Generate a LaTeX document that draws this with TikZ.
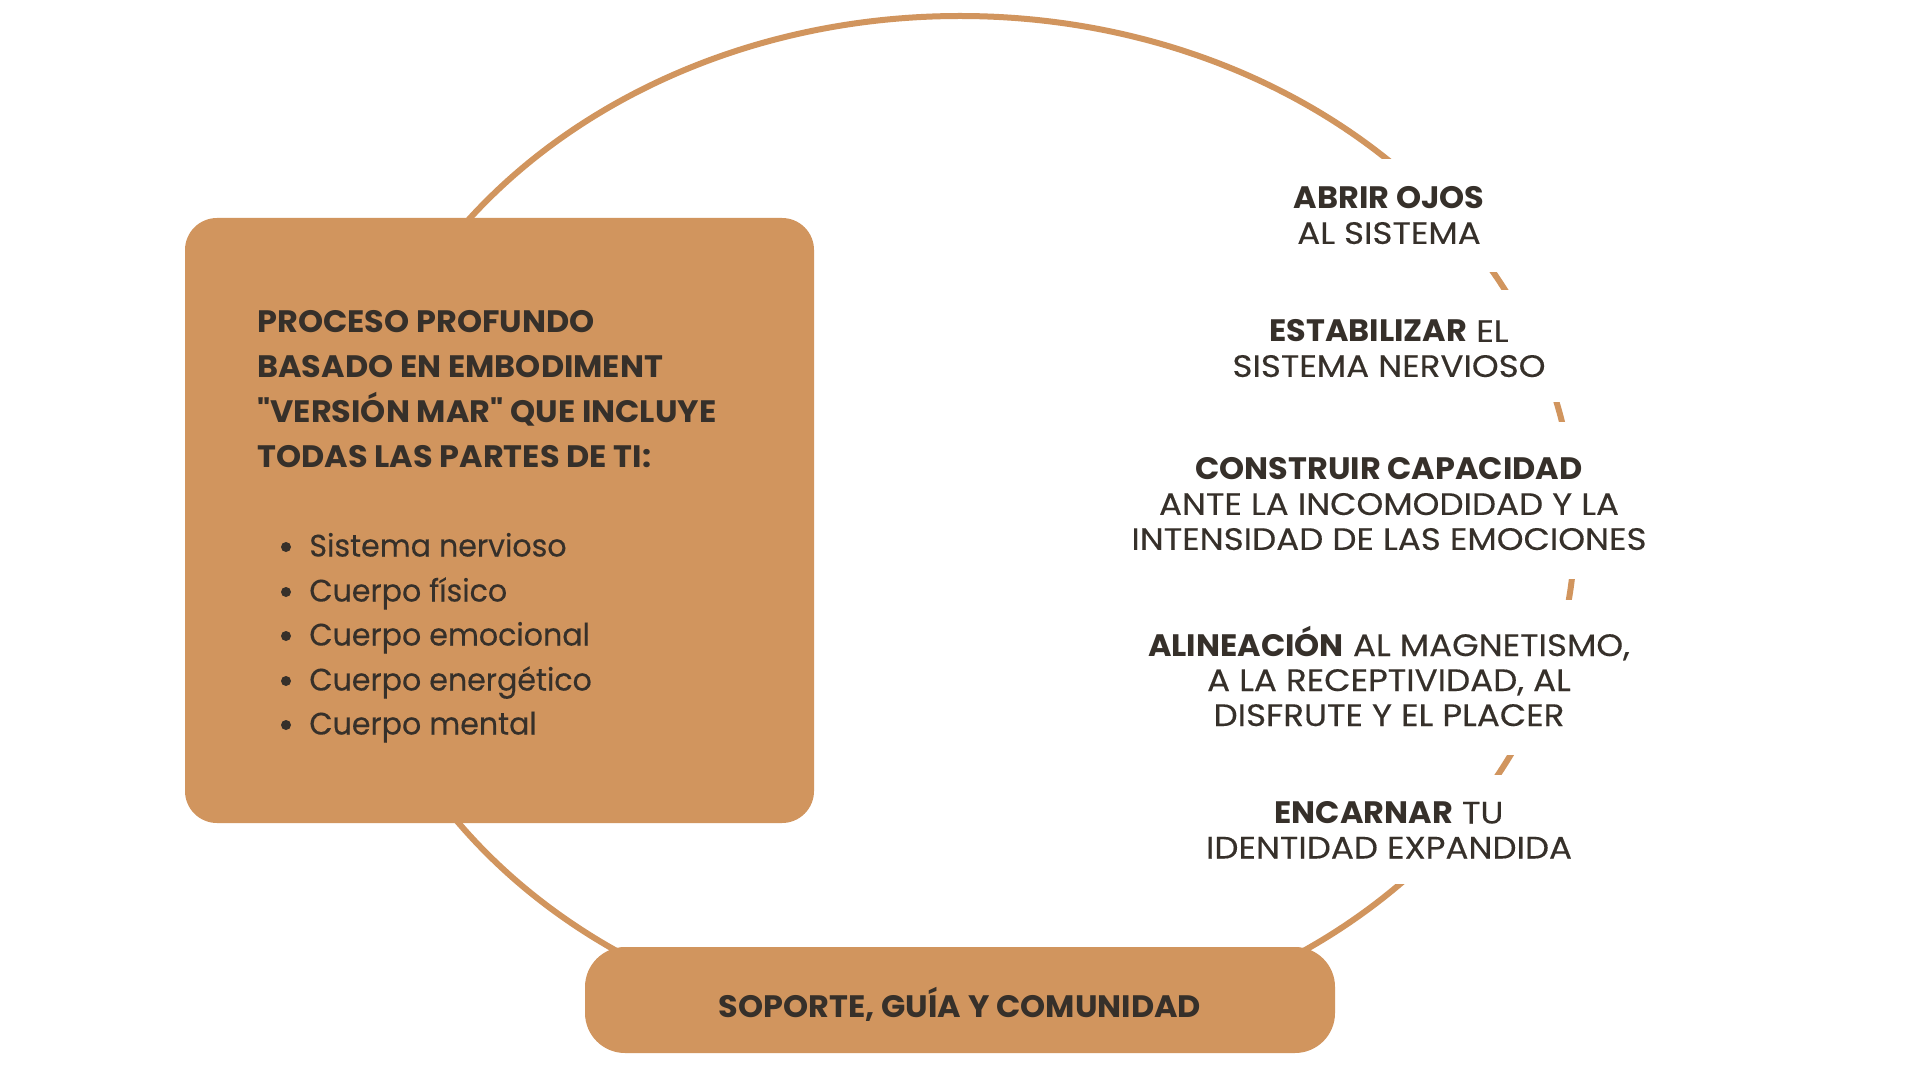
\documentclass[tikz,border=0pt]{standalone}
\usepackage{fontspec}
\setmainfont{Poppins}[Ligatures=TeXOff,
  UprightFeatures={FakeStretch=1.1, FakeBold=0.3},
  BoldFeatures={FakeStretch=1.03}]
\newfontfamily\listfont{Poppins}[Ligatures=TeXOff, FakeStretch=0.97, FakeBold=0.3]
\definecolor{ocre}{HTML}{D1955E}
\definecolor{ink}{HTML}{36302A}
\tikzset{
  ring/.style={draw=ocre, line width=3pt},
  panel/.style={fill=ocre, rounded corners=16pt, inner sep=0pt},
  stepbox/.style={align=center, text=ink, inner sep=0pt,
    font=\fontsize{15.5}{17.5}\selectfont},
  headtext/.style={text=ink, align=left, inner sep=0pt, anchor=north west,
    font=\fontsize{15.5}{22.5}\selectfont\bfseries},
  itemtext/.style={text=ink, inner sep=0pt, anchor=base west,
    font=\fontsize{15.5}{18}\selectfont\listfont},
  dot/.style={fill=ink, circle, inner sep=0pt, minimum size=5pt},
}
\begin{document}
\begin{tikzpicture}[x=0.5pt,y=-0.5pt]
\useasboundingbox (0,0) rectangle (1920,1080);
\fill[white] (0,0) rectangle (1920,1080);
% ring
\draw[ring] (960,527) ellipse [x radius=615, y radius=511];
% white gaps in the ring behind the step texts
\fill[white] (1189,159) rectangle (1589,272);
\fill[white] (1189,290) rectangle (1589,402);
\fill[white] (1115,422) rectangle (1665,579);
\fill[white] (1115,600) rectangle (1665,755);
\fill[white] (1189,775) rectangle (1589,884);
% steps
\node[stepbox] (s1) at (1389,215.5)
  {\textbf{ABRIR OJOS}\\AL SISTEMA};
\node[stepbox] (s2) at (1389,348.5)
  {\textbf{ESTABILIZAR} EL\\SISTEMA NERVIOSO};
\node[stepbox] (s3) at (1389,504)
  {\textbf{CONSTRUIR CAPACIDAD}\\ANTE LA INCOMODIDAD Y LA\\INTENSIDAD DE LAS EMOCIONES};
\node[stepbox] (s4) at (1389,676)
  {\textbf{ALINEACIÓN} AL MAGNETISMO,\\A LA RECEPTIVIDAD, AL\\DISFRUTE Y EL PLACER};
\node[stepbox] (s5) at (1389,830)
  {\textbf{ENCARNAR} TU\\IDENTIDAD EXPANDIDA};
% left panel
\node[panel, minimum width=314.5pt, minimum height=302.5pt] (left) at (499.5,520.5) {};
\node[headtext] (head) at (257,310)
  {PROCESO PROFUNDO\\BASADO EN EMBODIMENT\\"VERSIÓN MAR" QUE INCLUYE\\TODAS LAS PARTES DE TI:};
\node[itemtext] (i1) at (309,556.5) {Sistema nervioso};
\node[itemtext] (i2) at (309,601.5) {Cuerpo físico};
\node[itemtext] (i3) at (309,645.5) {Cuerpo emocional};
\node[itemtext] (i4) at (309,690.5) {Cuerpo energético};
\node[itemtext] (i5) at (309,734.5) {Cuerpo mental};
\node[dot] (d1) at (286,547) {};
\node[dot] (d2) at (286,592) {};
\node[dot] (d3) at (286,636) {};
\node[dot] (d4) at (286,681) {};
\node[dot] (d5) at (286,725) {};
% bottom panel
\node[panel, rounded corners=20pt, minimum width=375pt, minimum height=53pt] (sup) at (960,1000) {};
\node[text=ink, anchor=base, inner sep=0pt, font=\fontsize{15.5}{17.5}\selectfont\bfseries]
  (suptext) at (960,1017) {SOPORTE, GUÍA Y COMUNIDAD};
\end{tikzpicture}
\end{document}
